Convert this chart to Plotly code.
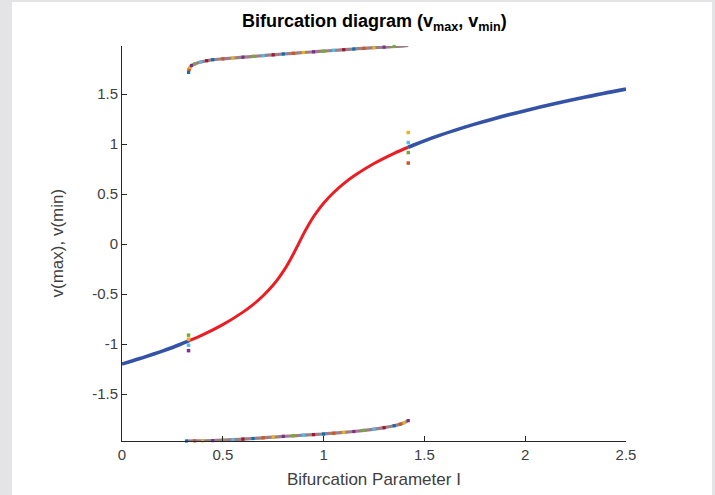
import plotly.graph_objects as go

# ---- data ----
# stable equilibrium (left branch)
I_stab_left = [0.0, 0.05, 0.1, 0.15, 0.2, 0.25, 0.3, 0.331]
v_stab_left = [-1.199, -1.169, -1.137, -1.104, -1.070, -1.033, -0.993, -0.968]
# unstable equilibrium
I_unstab = [0.331, 0.4, 0.5, 0.6, 0.65, 0.7, 0.75, 0.775, 0.8, 0.825, 0.85, 0.875,
            0.9, 0.925, 0.95, 0.975, 1.0, 1.05, 1.1, 1.15, 1.25, 1.35, 1.419]
v_unstab = [-0.968, -0.907, -0.805, -0.680, -0.605, -0.516, -0.409, -0.345, -0.273, -0.1905, -0.0995, 0.0,
            0.0995, 0.1905, 0.273, 0.345, 0.409, 0.516, 0.605, 0.680, 0.805, 0.907, 0.968]
# stable equilibrium (right branch)
I_stab_right = [1.419, 1.45, 1.55, 1.65, 1.75, 1.85, 2.0, 2.15, 2.3, 2.5]
v_stab_right = [0.968, 0.993, 1.0695, 1.137, 1.199, 1.256, 1.334, 1.405, 1.470, 1.549]
# limit cycle maxima
I_max = [0.330, 0.333, 0.337, 0.345, 0.36, 0.39, 0.42, 0.45, 0.50, 0.55, 0.60, 0.65, 0.70, 0.75,
         0.80, 0.85, 0.90, 0.95, 1.00, 1.05, 1.10, 1.15, 1.20, 1.25, 1.30, 1.35, 1.40, 1.42]
v_max = [1.716, 1.745, 1.765, 1.785, 1.800, 1.820, 1.833, 1.843, 1.852, 1.860, 1.868, 1.876, 1.884, 1.892,
         1.900, 1.907, 1.915, 1.922, 1.929, 1.936, 1.943, 1.950, 1.957, 1.963, 1.969, 1.975, 1.981, 1.985]
# limit cycle minima
I_min = [0.32, 0.36, 0.40, 0.45, 0.50, 0.55, 0.60, 0.65, 0.70, 0.75, 0.80, 0.85, 0.90, 0.95, 1.00,
         1.05, 1.10, 1.15, 1.20, 1.25, 1.30, 1.35, 1.38, 1.40, 1.42]
v_min = [-1.968, -1.967, -1.966, -1.964, -1.960, -1.955, -1.949, -1.943, -1.936, -1.929, -1.922, -1.916,
         -1.910, -1.904, -1.898, -1.890, -1.882, -1.873, -1.862, -1.850, -1.835, -1.815, -1.800, -1.785, -1.764]
# transient points near the Hopf points
I_hopf = [0.33, 0.33, 0.33, 0.33, 1.42, 1.42, 1.42, 1.42]
v_hopf = [-0.91, -0.95, -1.01, -1.065, 1.115, 1.015, 0.915, 0.81]

x_ticks = [0, 0.5, 1, 1.5, 2, 2.5]
x_ticklabels = ["0", "0.5", "1", "1.5", "2", "2.5"]
y_ticks = [-1.5, -1, -0.5, 0, 0.5, 1, 1.5]
y_ticklabels = ["-1.5", "-1", "-0.5", "0", "0.5", "1", "1.5"]

MATLAB = ["#0072BD", "#D95319", "#EDB120", "#7E2F8E", "#77AC30", "#4DBEEE", "#A2142F"]
BLUE = "#3453a6"
RED = "#ec1c24"
FONT = "Liberation Sans, Arial, sans-serif"

fig = go.Figure()

# limit cycle curves: muted underlying line plus multicolored markers
for xs, ys in [(I_max, v_max), (I_min, v_min)]:
    fig.add_trace(go.Scatter(x=xs, y=ys, mode="lines", line=dict(color="#9a7f86", width=3.2, shape="spline"),
                             hoverinfo="skip", showlegend=False, cliponaxis=False))
    fig.add_trace(go.Scatter(x=xs, y=ys, mode="markers",
                             marker=dict(size=3.2, symbol="square",
                                         color=[MATLAB[i % 7] for i in range(len(xs))]),
                             showlegend=False, cliponaxis=False))

fig.add_trace(go.Scatter(x=I_unstab, y=v_unstab, mode="lines",
                         line=dict(color=RED, width=3, shape="spline"), showlegend=False))
for xs, ys in [(I_stab_left, v_stab_left), (I_stab_right, v_stab_right)]:
    fig.add_trace(go.Scatter(x=xs, y=ys, mode="lines",
                             line=dict(color=BLUE, width=3.6, shape="spline"), showlegend=False,
                             cliponaxis=False))

hopf_colors = ["#77AC30", "#EDB120", "#4DBEEE", "#7E2F8E", "#EDB120", "#4DBEEE", "#77AC30", "#D95319"]
fig.add_trace(go.Scatter(x=I_hopf, y=v_hopf, mode="markers",
                         marker=dict(size=3.5, symbol="square", color=hopf_colors), showlegend=False))

L, R, T, B = 122, 89, 46, 54
W, H = 715, 495
pw, ph = W - L - R, H - T - B

def px2paper_x(px):
    return (px - L) / pw

def px2paper_y(py):
    return (H - B - py) / ph

fig.add_shape(type="rect", xref="paper", yref="paper", layer="below",
              x0=px2paper_x(12), x1=px2paper_x(712), y0=px2paper_y(496), y1=px2paper_y(2),
              fillcolor="white", line=dict(width=0))

axis_common = dict(showgrid=False, zeroline=False, showline=True, linecolor="#262626", linewidth=1,
                   ticks="inside", ticklen=5, tickcolor="#262626", tickwidth=1,
                   tickfont=dict(family=FONT, size=15, color="#404040"), mirror=False)

fig.update_layout(
    width=W, height=H,
    margin=dict(l=L, r=R, t=T, b=B),
    paper_bgcolor="#e4e4e6", plot_bgcolor="white",
    xaxis=dict(range=[0, 2.5], tickvals=x_ticks, ticktext=x_ticklabels, **axis_common),
    yaxis=dict(range=[-1.968, 1.98], tickvals=y_ticks, ticktext=y_ticklabels, **axis_common),
    annotations=[
        dict(text="<b>Bifurcation diagram (v<sub>max</sub>, v<sub>min</sub>)</b>", xref="paper", yref="paper",
             x=0.5, y=px2paper_y(23), xanchor="center", yanchor="middle", showarrow=False,
             font=dict(family=FONT, size=18, color="black")),
        dict(text="Bifurcation Parameter I", xref="paper", yref="paper",
             x=0.5, y=px2paper_y(479), xanchor="center", yanchor="middle", showarrow=False,
             font=dict(family=FONT, size=17, color="#404040")),
        dict(text="v(max), v(min)", xref="paper", yref="paper", textangle=-90,
             x=px2paper_x(57), y=0.5, xanchor="center", yanchor="middle", showarrow=False,
             font=dict(family=FONT, size=17, color="#404040")),
    ],
)

fig.write_html("out.html")
